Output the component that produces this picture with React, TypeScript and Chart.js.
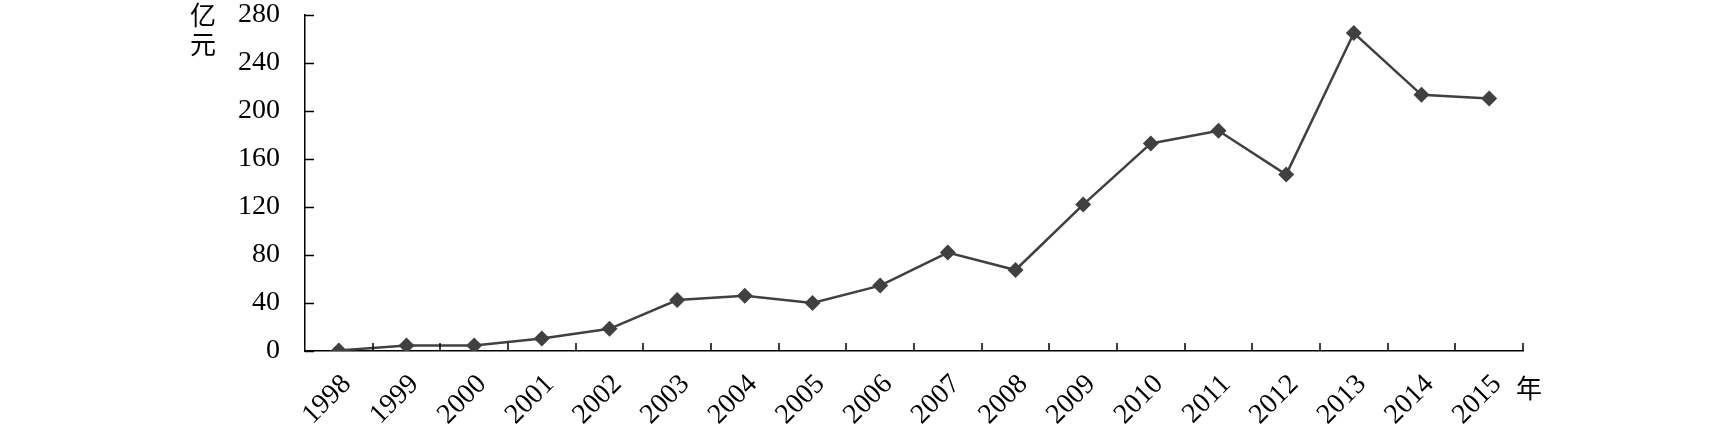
import React, { useEffect, useRef } from "react";
import { Chart, registerables } from "chart.js";

Chart.register(...registerables);

const years: string[] = [
  "1998", "1999", "2000", "2001", "2002", "2003", "2004", "2005", "2006",
  "2007", "2008", "2009", "2010", "2011", "2012", "2013", "2014", "2015",
];
const values: number[] = [
  0.5, 4.5, 4.5, 10.5, 18.5, 42.5, 46, 40, 54.5,
  82, 67.5, 122, 173, 183.5, 147, 265, 213.5, 210.5,
];
const yTicks: number[] = [0, 40, 80, 120, 160, 200, 240, 280];
const yUnit = "亿元";
const xUnit = "年";

const SERIF = "'Liberation Serif', 'Times New Roman', serif";
const CJK = "'Noto Sans CJK SC', sans-serif";

export default function App() {
  const ref = useRef<HTMLCanvasElement | null>(null);

  useEffect(() => {
    document.body.style.margin = "0";
    const canvas = ref.current;
    if (!canvas) return;

    const innerTicks = {
      id: "innerTicks",
      afterDraw(chart: any) {
        const ctx = chart.ctx;
        const xs = chart.scales.x;
        const ys = chart.scales.y;
        const area = chart.chartArea;
        ctx.save();
        ctx.strokeStyle = "#000";
        ctx.lineWidth = 1.5;
        ctx.beginPath();
        for (const v of yTicks) {
          const py = Math.round(ys.getPixelForValue(v)) + 0.5;
          ctx.moveTo(area.left, py);
          ctx.lineTo(area.left + 9, py);
        }
        const n = years.length;
        for (let i = 0; i < n; i++) {
          const c = xs.getPixelForValue(i);
          const next = i < n - 1 ? xs.getPixelForValue(i + 1) : 2 * c - xs.getPixelForValue(i - 1);
          const px = Math.round((c + next) / 2);
          ctx.moveTo(px, area.bottom);
          ctx.lineTo(px, area.bottom - 8);
        }
        ctx.stroke();

        ctx.fillStyle = "#000";
        ctx.font = "26px " + CJK;
        ctx.textAlign = "center";
        ctx.textBaseline = "middle";
        const chars = Array.from(yUnit);
        chars.forEach((ch, i) => {
          ctx.fillText(ch, 203, 15 + i * 29);
        });
        ctx.fillText(xUnit, 1529, 388);
        ctx.restore();
      },
    };

    const chart = new Chart(canvas, {
      type: "line",
      data: {
        labels: years,
        datasets: [
          {
            data: values,
            borderColor: "#404040",
            backgroundColor: "#404040",
            borderWidth: 2.5,
            pointStyle: "rectRot",
            pointRadius: 8,
            pointBorderWidth: 0,
            pointBackgroundColor: "#404040",
            tension: 0,
          },
        ],
      },
      options: {
        animation: false,
        responsive: false,
        maintainAspectRatio: false,
        layout: { padding: { left: 0, right: 190, top: 15, bottom: 0 } },
        plugins: {
          legend: { display: false },
          tooltip: { enabled: false },
        },
        scales: {
          x: {
            offset: true,
            grid: { display: false, drawTicks: false },
            border: { display: true, color: "#000", width: 1.5 },
            ticks: {
              color: "#000",
              font: { family: SERIF, size: 28 },
              minRotation: 45,
              maxRotation: 45,
              padding: 17,
              labelOffset: 8,
              autoSkip: false,
            },
            afterFit(scale: any) {
              scale.height = 83;
              scale.paddingLeft = 0;
              scale.paddingRight = 0;
            },
          },
          y: {
            min: 0,
            max: 280,
            grid: { display: false, drawTicks: false },
            border: { display: true, color: "#000", width: 1.5 },
            ticks: {
              stepSize: 40,
              color: "#000",
              font: { family: SERIF, size: 28 },
              padding: 25,
            },
            afterFit(scale: any) {
              scale.width = 305;
              scale.paddingTop = 0;
              scale.paddingBottom = 0;
            },
          },
        },
      },
      plugins: [innerTicks],
    });

    return () => chart.destroy();
  }, []);

  return (
    <div style={{ width: 1713, height: 434 }}>
      <canvas ref={ref} width={1713} height={434} style={{ display: "block" }} />
    </div>
  );
}
